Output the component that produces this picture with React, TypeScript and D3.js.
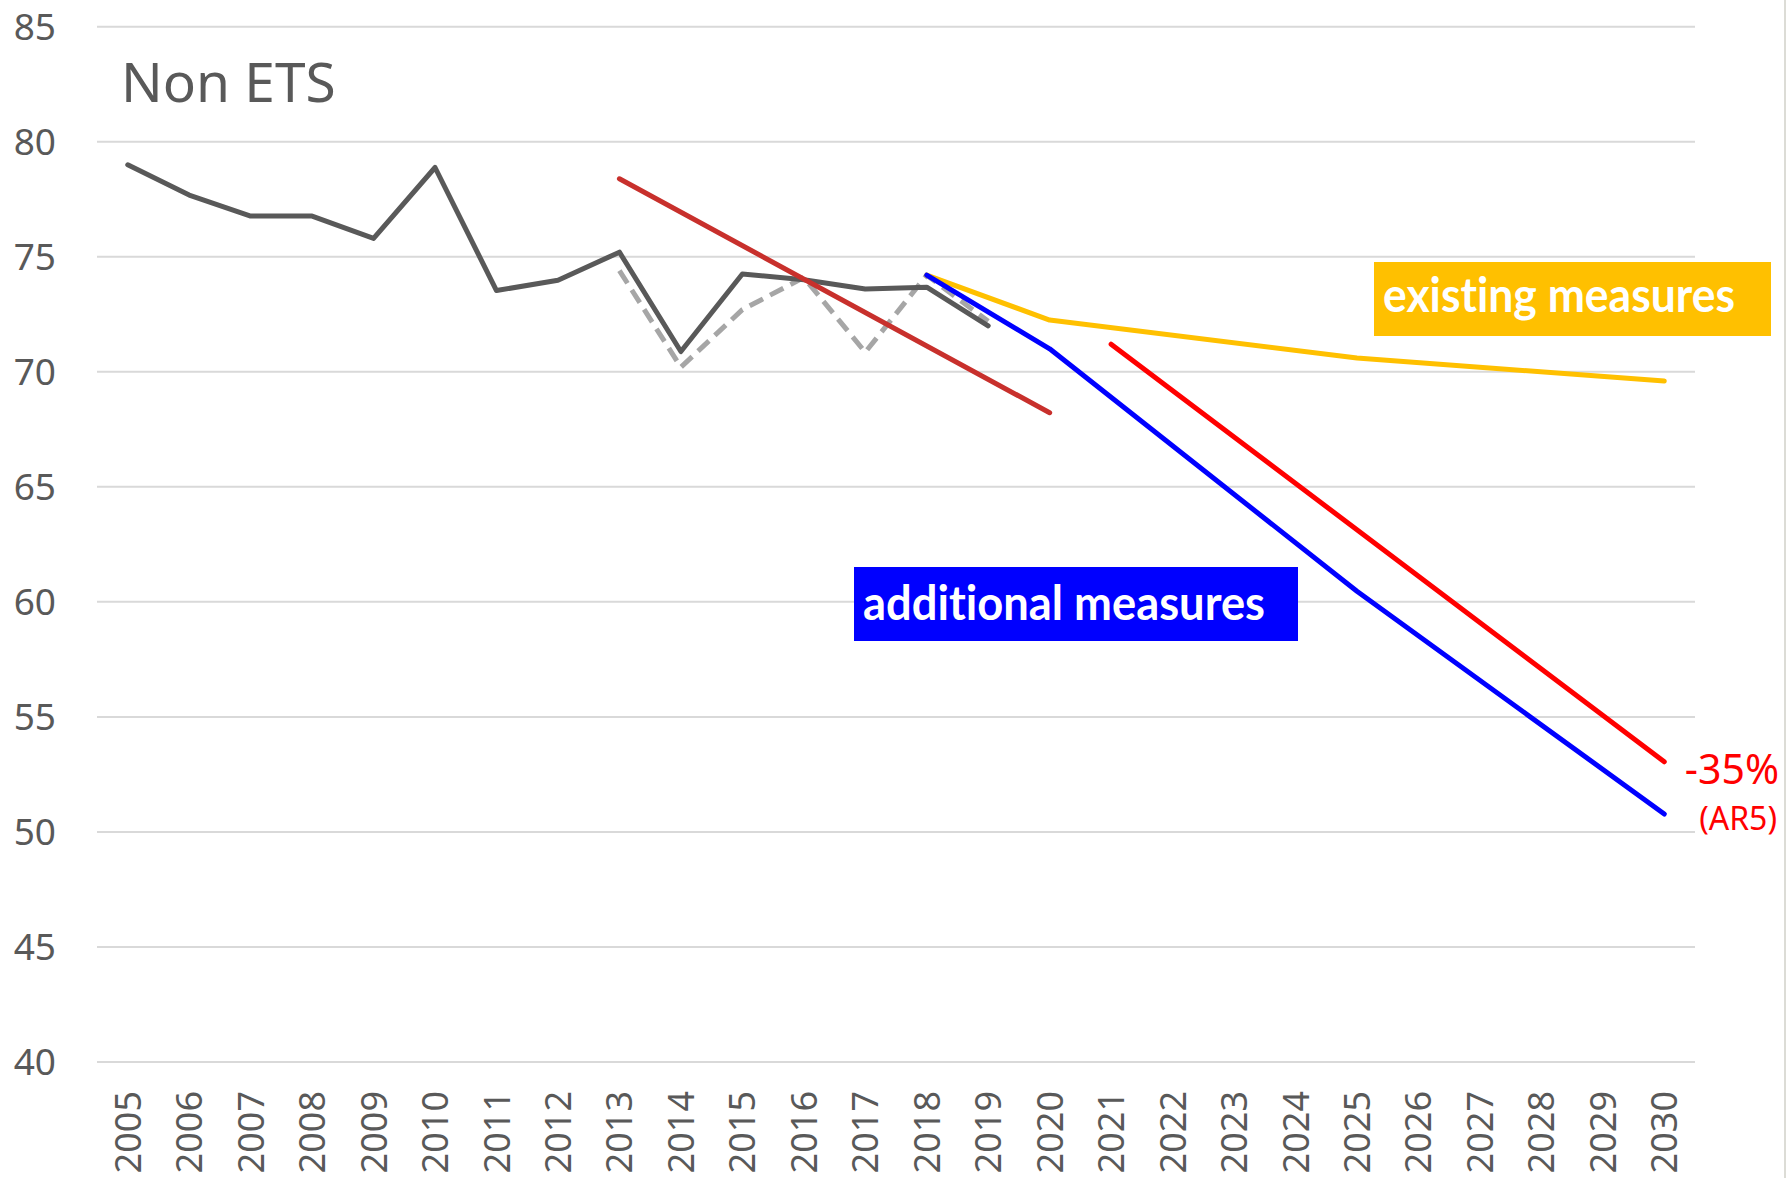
import React from "react";
import * as d3 from "d3";

const years = ["2005","2006","2007","2008","2009","2010","2011","2012","2013","2014","2015","2016","2017","2018","2019","2020","2021","2022","2023","2024","2025","2026","2027","2028","2029","2030"];
const yTicks = [40, 45, 50, 55, 60, 65, 70, 75, 80, 85];

const historicYears = ["2005","2006","2007","2008","2009","2010","2011","2012","2013","2014","2015","2016","2017","2018","2019"];
const historicValues = [79.0, 77.68, 76.77, 76.77, 75.8, 78.88, 73.53, 73.98, 75.2, 70.88, 74.25, 74.0, 73.6, 73.68, 72.0];

const revisedYears = ["2013","2014","2015","2016","2017","2018","2019"];
const revisedValues = [74.4, 70.2, 72.7, 74.1, 70.85, 74.2, 72.2];

const trendYears = ["2013","2020"];
const trendValues = [78.39, 68.22];

const existingYears = ["2018","2020","2025","2030"];
const existingValues = [74.2, 72.25, 70.6, 69.6];

const additionalYears = ["2018","2020","2025","2030"];
const additionalValues = [74.2, 71.0, 60.46, 50.78];

const targetYears = ["2021","2030"];
const targetValues = [71.2, 53.05];

const W = 1786, H = 1178;
const FONT = "'Noto Sans', sans-serif";
const GRAY_TEXT = "#595959";

export default function App() {
  const x = d3.scaleBand<string>().domain(years).range([97, 1695]);
  const y = d3.scaleLinear().domain([40, 85]).range([1062, 26.7]);
  const cx = (yr: string) => (x(yr) as number) + x.bandwidth() / 2;

  const mk = (ys: string[], vs: number[]) =>
    d3.line<number>().x((_, i) => cx(ys[i])).y((v) => y(v))(vs) || "";

  const [x0, x1] = x.range();
  const boxText = { fontVariantLigatures: "none" as const, fontFeatureSettings: "'liga' 0, 'clig' 0" };

  return (
    <svg width={W} height={H} style={{ position: "absolute", left: 0, top: 0, background: "#fff" }}>
      <rect x={0} y={0} width={W} height={H} fill="#fff" />
      <line x1={1785} x2={1785} y1={0} y2={H} stroke="#d0d0c8" strokeWidth={1.5} />
      {yTicks.map((t) => (
        <g key={t}>
          <line x1={x0} x2={x1} y1={y(t)} y2={y(t)} stroke="#d9d9d9" strokeWidth={2} />
          <text x={56} y={y(t) + 13} textAnchor="end" fontFamily={FONT} fontSize={37} fill={GRAY_TEXT}>{t}</text>
        </g>
      ))}
      {years.map((yr) => (
        <text key={yr} transform={`translate(${cx(yr) + 13},1091) rotate(-90)`} textAnchor="end" fontFamily={FONT} fontSize={36} fill={GRAY_TEXT}>{yr}</text>
      ))}
      <text x={121} y={102} fontFamily={FONT} fontSize={55} fill={GRAY_TEXT}>Non ETS</text>

      <path d={mk(revisedYears, revisedValues)} fill="none" stroke="#a6a6a6" strokeWidth={5} strokeDasharray="15 8" strokeLinejoin="round" />
      <path d={mk(historicYears, historicValues)} fill="none" stroke="#595959" strokeWidth={5} strokeLinejoin="round" strokeLinecap="round" />
      <path d={mk(trendYears, trendValues)} fill="none" stroke="#c8302c" strokeWidth={5} strokeLinecap="round" />
      <path d={mk(existingYears, existingValues)} fill="none" stroke="#ffc000" strokeWidth={5} strokeLinejoin="round" strokeLinecap="round" />
      <path d={mk(additionalYears, additionalValues)} fill="none" stroke="#0000ff" strokeWidth={5} strokeLinejoin="round" strokeLinecap="round" />
      <path d={mk(targetYears, targetValues)} fill="none" stroke="#ff0000" strokeWidth={5} strokeLinecap="round" />

      <rect x={854} y={567} width={444} height={74} fill="#0000ff" />
      <text x={863} y={620} style={boxText} fontFamily="Lato, sans-serif" fontWeight="bold" fontSize={48} fill="#fff" textLength={402} lengthAdjust="spacingAndGlyphs">additional measures</text>
      <rect x={1374} y={262} width={397} height={74} fill="#ffc000" />
      <text x={1383} y={312} style={boxText} fontFamily="Lato, sans-serif" fontWeight="bold" fontSize={48} fill="#fff" textLength={352} lengthAdjust="spacingAndGlyphs">existing measures</text>

      <text x={1779} y={784} textAnchor="end" fontFamily={FONT} fontSize={41} fill="#ff0000">-35%</text>
      <text x={1777} y={830} textAnchor="end" fontFamily={FONT} fontSize={32} fill="#ff0000">(AR5)</text>
    </svg>
  );
}
